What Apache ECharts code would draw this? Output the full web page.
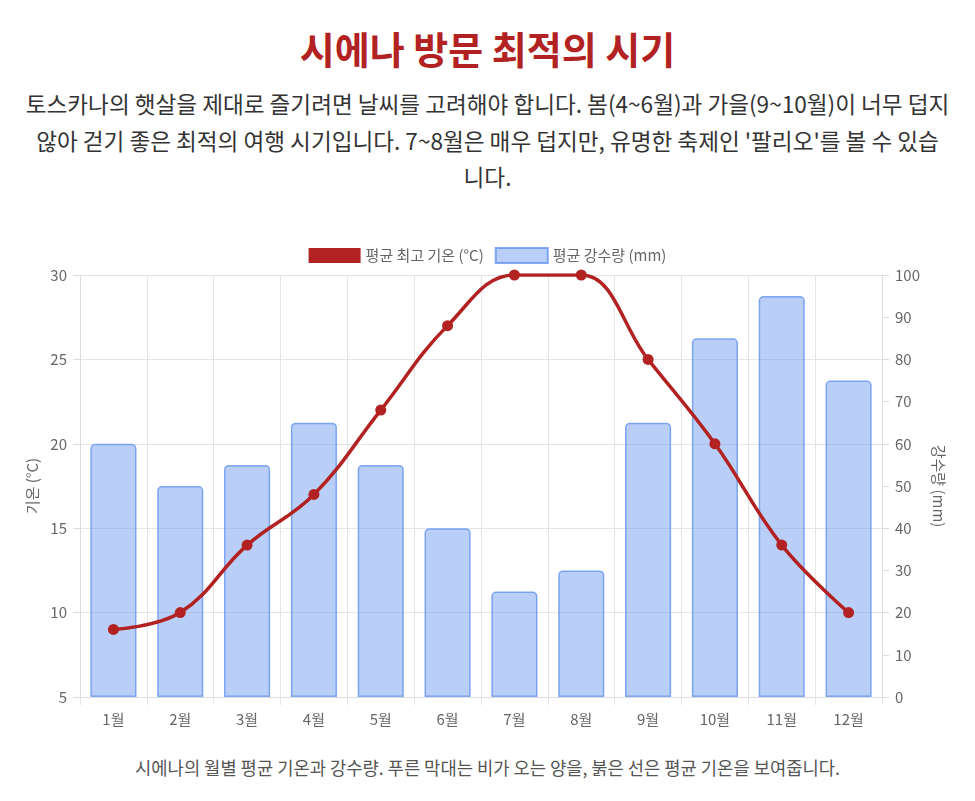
<!DOCTYPE html>
<html>
	<head>
		<meta charset="utf-8" />
		<title>시에나 방문 최적의 시기</title>
		<script type="text/javascript" src="https://cdn.jsdelivr.net/npm/echarts@6/dist/echarts.min.js"></script>
		<style>
			body { margin: 0; background: #fff; font-family: "Noto Sans CJK KR", "Noto Sans", sans-serif; }
			#title { position: absolute; left: 0; width: 975px; top: 25px; margin: 0; text-align: center; font-size: 38px; line-height: 46px; font-weight: bold; color: #b22222; }
			#desc { position: absolute; left: 0; width: 975px; top: 86px; margin: 0; text-align: center; font-size: 22.6px; line-height: 36.5px; color: #333; white-space: nowrap; }
			#main { position: absolute; left: 0; top: 235px; width: 975px; height: 500px; }
			#caption { position: absolute; left: 0; width: 975px; top: 754px; margin: 0; text-align: center; font-size: 17.7px; line-height: 26px; color: #555; }
		</style>
		<script type="text/javascript">
		var months = ['1월', '2월', '3월', '4월', '5월', '6월', '7월', '8월', '9월', '10월', '11월', '12월'];
		var tempHigh = [9, 10, 14, 17, 22, 27, 30, 30, 25, 20, 14, 10];      // 평균 최고 기온 (°C)
		var rainfall = [60, 50, 55, 65, 55, 40, 25, 30, 65, 85, 95, 75];     // 평균 강수량 (mm)

		var gridColor = '#e5e5e5';
		var labelColor = '#666';
		var fontSize = 15;

		window.onload = function(){
			var myChart = echarts.init(document.getElementById('main'));
			var option = {
				textStyle: { fontFamily: '"Noto Sans CJK KR", sans-serif' },
				animation: false,
				legend: {
					top: 7,
					left: 'center',
					itemWidth: 52,
					itemHeight: 15,
					itemGap: 11,
					textStyle: { color: labelColor, fontSize: fontSize },
					data: [
						{ name: '평균 최고 기온 (°C)', icon: 'rect' },
						{ name: '평균 강수량 (mm)', icon: 'rect' }
					]
				},
				grid: { left: 80, right: 93, top: 40, bottom: 38 },
				xAxis: {
					type: 'category',
					data: months,
					boundaryGap: true,
					axisLine: { lineStyle: { color: '#ddd' } },
					axisTick: { show: true, length: 8, lineStyle: { color: gridColor } },
					axisLabel: { color: labelColor, fontSize: fontSize, margin: 15 },
					splitLine: { show: true, lineStyle: { color: gridColor } }
				},
				yAxis: [
					{
						type: 'value',
						min: 5,
						max: 30,
						interval: 5,
						name: '기온 (°C)',
						nameLocation: 'middle',
						nameGap: 39,
						nameTextStyle: { color: labelColor, fontSize: fontSize },
						axisLine: { show: true, lineStyle: { color: '#ddd' } },
						axisTick: { show: true, length: 7, lineStyle: { color: '#ddd' } },
						axisLabel: { color: labelColor, fontSize: fontSize, margin: 13 },
						splitLine: { show: true, lineStyle: { color: gridColor } }
					},
					{
						type: 'value',
						position: 'right',
						min: 0,
						max: 100,
						interval: 10,
						name: '강수량 (mm)',
						nameLocation: 'middle',
						nameRotate: -90,
						nameGap: 47,
						nameTextStyle: { color: labelColor, fontSize: fontSize },
						axisLine: { show: true, lineStyle: { color: '#ddd' } },
						axisTick: { show: true, length: 7, lineStyle: { color: '#ddd' } },
						axisLabel: { color: labelColor, fontSize: fontSize, margin: 13 },
						splitLine: { show: false }
					}
				],
				series: [
					{
						name: '평균 최고 기온 (°C)',
						type: 'line',
						yAxisIndex: 0,
						z: 5,
						smooth: 0.4,
						symbol: 'circle',
						symbolSize: 11,
						itemStyle: { color: '#b22222' },
						lineStyle: { color: '#b22222', width: 3.5 },
						data: tempHigh
					},
					{
						name: '평균 강수량 (mm)',
						type: 'bar',
						yAxisIndex: 1,
						z: 2,
						barWidth: '69%',
						itemStyle: {
							color: 'rgba(100, 149, 237, 0.45)',
							borderColor: 'rgba(100, 149, 237, 0.8)',
							borderWidth: 1.5,
							borderRadius: [4, 4, 0, 0]
						},
						data: rainfall
					}
				]
			};
			myChart.setOption(option);
		}
		</script>
	</head>
	<body>
		<h1 id="title">시에나 방문 최적의 시기</h1>
		<p id="desc">토스카나의 햇살을 제대로 즐기려면 날씨를 고려해야 합니다. 봄(4~6월)과 가을(9~10월)이 너무 덥지<br>않아 걷기 좋은 최적의 여행 시기입니다. 7~8월은 매우 덥지만, 유명한 축제인 '팔리오'를 볼 수 있습<br>니다.</p>
		<div id="main"></div>
		<p id="caption">시에나의 월별 평균 기온과 강수량. 푸른 막대는 비가 오는 양을, 붉은 선은 평균 기온을 보여줍니다.</p>
	</body>
</html>
